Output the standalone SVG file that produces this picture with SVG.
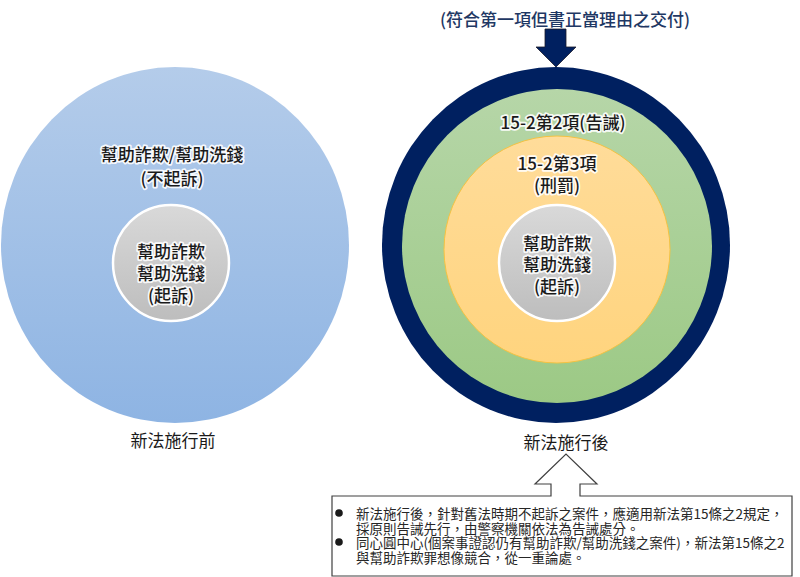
<svg xmlns="http://www.w3.org/2000/svg" width="800" height="577" viewBox="0 0 800 577" xml:lang="zh-Hant-TW" lang="zh-Hant-TW">
<defs>
<linearGradient id="gBlue" x1="0" y1="0" x2="0" y2="1"><stop offset="0" stop-color="#B4CCEA"/><stop offset="1" stop-color="#8EB4E3"/></linearGradient>
<linearGradient id="gGreen" x1="0" y1="0" x2="0" y2="1"><stop offset="0" stop-color="#B6D6A8"/><stop offset="1" stop-color="#9CC985"/></linearGradient>
<linearGradient id="gOrange" x1="0" y1="0" x2="0" y2="1"><stop offset="0" stop-color="#FFDC9A"/><stop offset="1" stop-color="#FFD47E"/></linearGradient>
<linearGradient id="gGray" x1="0" y1="0" x2="0" y2="1"><stop offset="0" stop-color="#D9D9D9"/><stop offset="1" stop-color="#BDBDBD"/></linearGradient>
</defs>
<style>
.lbl{font-family:"Noto Sans CJK TC","Noto Sans CJK SC",sans-serif;font-size:17px;fill:#1a1a1a;text-anchor:middle;dominant-baseline:central;font-weight:500}
.glow{stroke:#ffffff;stroke-width:3.5px;stroke-linejoin:round;paint-order:stroke;stroke-opacity:0.9}
.cap{font-family:"Noto Sans CJK TC","Noto Sans CJK SC",sans-serif;font-size:17px;fill:#1a1a1a;text-anchor:middle;dominant-baseline:central}
.title{font-family:"Noto Sans CJK TC","Noto Sans CJK SC",sans-serif;font-size:17px;fill:#1F3864;text-anchor:middle;dominant-baseline:central;font-weight:500}
.note{font-family:"Noto Sans CJK TC","Noto Sans CJK SC",sans-serif;font-size:13.5px;fill:#262626;dominant-baseline:central}
.inner{fill:url(#gGray);stroke:#ffffff;stroke-width:2.5}
</style>
<rect width="800" height="577" fill="#ffffff"/>

<g id="node-before">
<ellipse cx="175" cy="245" rx="174" ry="178" fill="url(#gBlue)"/>
<text class="lbl glow" x="172" y="153">幫助詐欺/幫助洗錢</text>
<text class="lbl glow" x="172" y="177">(不起訴)</text>
</g>
<g id="node-before-core">
<circle cx="171" cy="263" r="58" class="inner"/>
<text class="lbl glow" x="171" y="250">幫助詐欺</text>
<text class="lbl glow" x="171" y="272">幫助洗錢</text>
<text class="lbl glow" x="171" y="294">(起訴)</text>
</g>
<g id="label-before"><text class="cap" x="173" y="439">新法施行前</text></g>

<g id="node-after-ring">
<ellipse cx="556" cy="245" rx="174" ry="178" fill="#002060"/>
</g>
<g id="node-after-warning">
<ellipse cx="557" cy="246" rx="155" ry="157" fill="url(#gGreen)"/>
<text class="lbl glow" x="563" y="121">15-2第2項(告誡)</text>
</g>
<g id="node-after-penalty">
<ellipse cx="557" cy="249.5" rx="113" ry="113.5" fill="url(#gOrange)" stroke="#F5C242" stroke-width="1"/>
<text class="lbl glow" x="557" y="162">15-2第3項</text>
<text class="lbl glow" x="557" y="184">(刑罰)</text>
</g>
<g id="node-after-core">
<circle cx="557" cy="263" r="58" class="inner"/>
<text class="lbl glow" x="557" y="242">幫助詐欺</text>
<text class="lbl glow" x="557" y="263">幫助洗錢</text>
<text class="lbl glow" x="557" y="285">(起訴)</text>
</g>
<g id="label-after"><text class="cap" x="566" y="441">新法施行後</text></g>

<g id="node-title"><text class="title" x="565" y="18">(符合第一項但書正當理由之交付)</text></g>

<g id="node-note">
<path d="M332,496 L551,496 L551,484 L535,484 L566,454 L597,484 L580,484 L580,496 L792,496 L792,576 L332,576 Z" fill="#ffffff" stroke="#404040" stroke-width="1.2"/>
<circle cx="339" cy="513" r="3.8" fill="#1a1a1a"/>
<circle cx="339" cy="542" r="3.8" fill="#1a1a1a"/>
<text class="note" x="356" y="513">新法施行後，針對舊法時期不起訴之案件，應適用新法第15條之2規定，</text>
<text class="note" x="356" y="528">採原則告誡先行，由警察機關依法為告誡處分。</text>
<text class="note" x="356" y="542">同心圓中心(個案事證認仍有幫助詐欺/幫助洗錢之案件)，新法第15條之2</text>
<text class="note" x="356" y="557">與幫助詐欺罪想像競合，從一重論處。</text>
</g>

<g id="connectors">
<path d="M545,29 L566,29 L566,47 L576,47 L556,67 L536,47 L545,47 Z" fill="#002060" stroke="#1a1a2a" stroke-width="0.8"/>
</g>
</svg>
